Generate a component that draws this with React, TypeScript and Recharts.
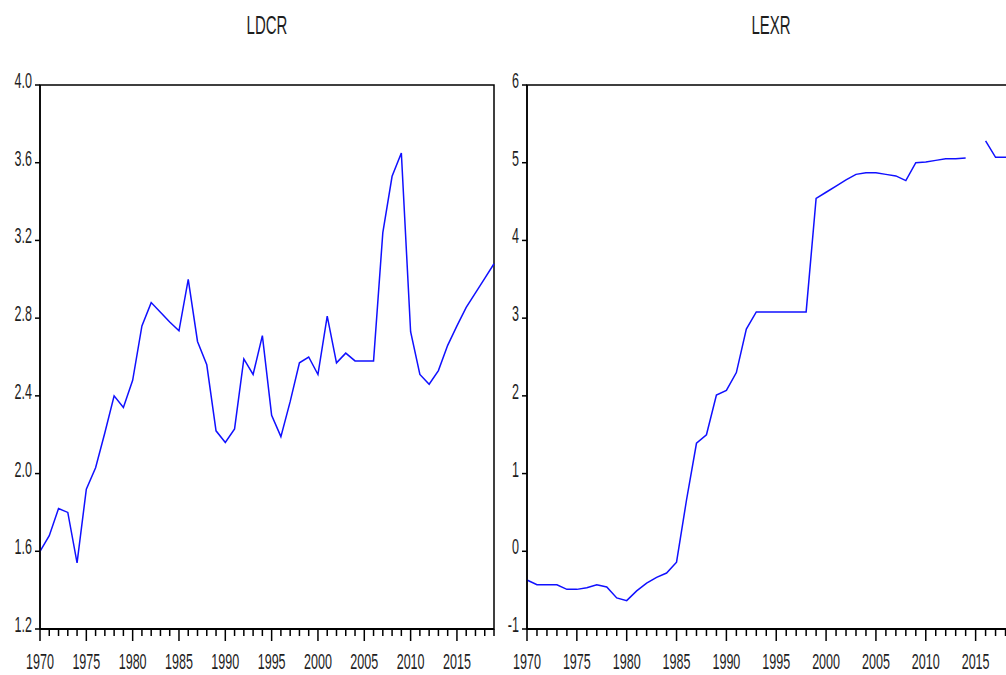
import React from "react";
import { LineChart, Line, XAxis, YAxis, ReferenceArea } from "recharts";

const years = [
  1970, 1971, 1972, 1973, 1974, 1975, 1976, 1977, 1978, 1979,
  1980, 1981, 1982, 1983, 1984, 1985, 1986, 1987, 1988, 1989,
  1990, 1991, 1992, 1993, 1994, 1995, 1996, 1997, 1998, 1999,
  2000, 2001, 2002, 2003, 2004, 2005, 2006, 2007, 2008, 2009,
  2010, 2011, 2012, 2013, 2014, 2015, 2016, 2017, 2018, 2019,
];

const ldcr = [
  1.6, 1.68, 1.82, 1.8, 1.54, 1.92, 2.03, 2.21, 2.4, 2.34,
  2.48, 2.76, 2.88, 2.83, 2.78, 2.735, 3.0, 2.68, 2.56, 2.22,
  2.16, 2.23, 2.59, 2.51, 2.71, 2.3, 2.19, 2.37, 2.57, 2.6,
  2.51, 2.81, 2.57, 2.62, 2.58, 2.58, 2.58, 3.24, 3.53, 3.65,
  2.73, 2.51, 2.46, 2.53, 2.66, 2.76, 2.855, 2.93, 3.005, 3.08,
];

const lexr: (number | null)[] = [
  -0.37, -0.43, -0.43, -0.43, -0.49, -0.49, -0.47, -0.43, -0.46, -0.6,
  -0.635, -0.51, -0.41, -0.335, -0.28, -0.14, 0.66, 1.39, 1.5, 2.01,
  2.07, 2.3, 2.86, 3.08, 3.08, 3.08, 3.08, 3.08, 3.08, 4.54,
  4.62, 4.7, 4.78, 4.85, 4.87, 4.87, 4.85, 4.83, 4.77, 5.0,
  5.01, 5.03, 5.05, 5.05, 5.06, null, 5.28, 5.07, 5.07, 5.07,
];

const ldcrTicks = [1.2, 1.6, 2.0, 2.4, 2.8, 3.2, 3.6, 4.0];
const ldcrTickLabels = ["1.2", "1.6", "2.0", "2.4", "2.8", "3.2", "3.6", "4.0"];
const lexrTicks = [-1, 0, 1, 2, 3, 4, 5, 6];
const lexrTickLabels = ["-1", "0", "1", "2", "3", "4", "5", "6"];
const titles = ["LDCR", "LEXR"];

const ldcrData = years.map((y, i) => ({ year: y, v: ldcr[i] }));
const lexrData = years.map((y, i) => ({ year: y, v: lexr[i] }));

const FONT = "'Liberation Sans', Arial, sans-serif";
const TXT = "#1e1e1e";

const XTick = (props: any) => {
  const { x, y, payload } = props;
  const v = payload.value;
  const major = v % 5 === 0;
  return (
    <g>
      <line x1={x} x2={x} y1={y} y2={y + (major ? 12 : 7)} stroke="#000" strokeWidth={1.5} />
      {major && (
        <text
          transform={`translate(${x},${y + 40}) scale(0.57,1)`}
          textAnchor="middle"
          fontSize={22}
          fontFamily={FONT}
          fill={TXT}
        >
          {v}
        </text>
      )}
    </g>
  );
};

const makeYTick = (ticks: number[], labels: string[]) => (props: any) => {
  const { x, y, payload } = props;
  const idx = ticks.findIndex((t) => Math.abs(t - payload.value) < 1e-6);
  const label = idx >= 0 ? labels[idx] : String(payload.value);
  return (
    <g>
      <line x1={x - 5} x2={x} y1={y} y2={y} stroke="#000" strokeWidth={1.5} />
      <text
        transform={`translate(${x - 8},${y + 3}) scale(0.57,1)`}
        textAnchor="end"
        fontSize={22}
        fontFamily={FONT}
        fill={TXT}
      >
        {label}
      </text>
    </g>
  );
};

const Panel = ({
  data,
  ticks,
  labels,
  width,
  left,
  marginRight,
}: {
  data: { year: number; v: number | null }[];
  ticks: number[];
  labels: string[];
  width: number;
  left: number;
  marginRight: number;
}) => {
  const yMin = ticks[0];
  const yMax = ticks[ticks.length - 1];
  const YTick = makeYTick(ticks, labels);
  return (
    <div style={{ position: "absolute", left, top: 0 }}>
      <LineChart
        width={width}
        height={675}
        data={data}
        margin={{ top: 85, right: marginRight, bottom: 16, left: 0 }}
      >
        <XAxis
          dataKey="year"
          type="number"
          domain={[years[0], years[years.length - 1]]}
          ticks={years}
          interval={0}
          height={30}
          tickSize={0}
          tickMargin={0}
          tickLine={false}
          axisLine={{ stroke: "#000", strokeWidth: 2 }}
          tick={(p: any) => <XTick {...p} />}
        />
        <YAxis
          type="number"
          domain={[yMin, yMax]}
          ticks={ticks}
          interval={0}
          width={40}
          tickSize={0}
          tickMargin={0}
          tickLine={false}
          axisLine={{ stroke: "#000", strokeWidth: 1.5 }}
          tick={(p: any) => <YTick {...p} />}
        />
        <ReferenceArea
          x1={years[0]}
          x2={years[years.length - 1]}
          y1={yMin}
          y2={yMax}
          fill="none"
          fillOpacity={0}
          stroke="#000"
          strokeWidth={1.5}
          ifOverflow="visible"
        />
        <Line
          dataKey="v"
          stroke="#1010ff"
          strokeWidth={1.5}
          dot={false}
          activeDot={false}
          connectNulls={false}
          isAnimationActive={false}
        />
      </LineChart>
    </div>
  );
};

export default function App() {
  return (
    <div
      style={{
        position: "absolute",
        left: 0,
        top: 0,
        width: 1006,
        height: 675,
        overflow: "hidden",
        background: "#fff",
      }}
    >
      <Panel data={ldcrData} ticks={ldcrTicks} labels={ldcrTickLabels} width={500} left={0} marginRight={6} />
      <Panel data={lexrData} ticks={lexrTicks} labels={lexrTickLabels} width={540} left={487} marginRight={11.5} />
      <svg width={1006} height={60} style={{ position: "absolute", left: 0, top: 0 }}>
        <text transform="translate(267,34) scale(0.6,1)" textAnchor="middle" fontSize={25} fontFamily={FONT} fill={TXT}>
          {titles[0]}
        </text>
        <text transform="translate(771,34) scale(0.6,1)" textAnchor="middle" fontSize={25} fontFamily={FONT} fill={TXT}>
          {titles[1]}
        </text>
      </svg>
    </div>
  );
}
